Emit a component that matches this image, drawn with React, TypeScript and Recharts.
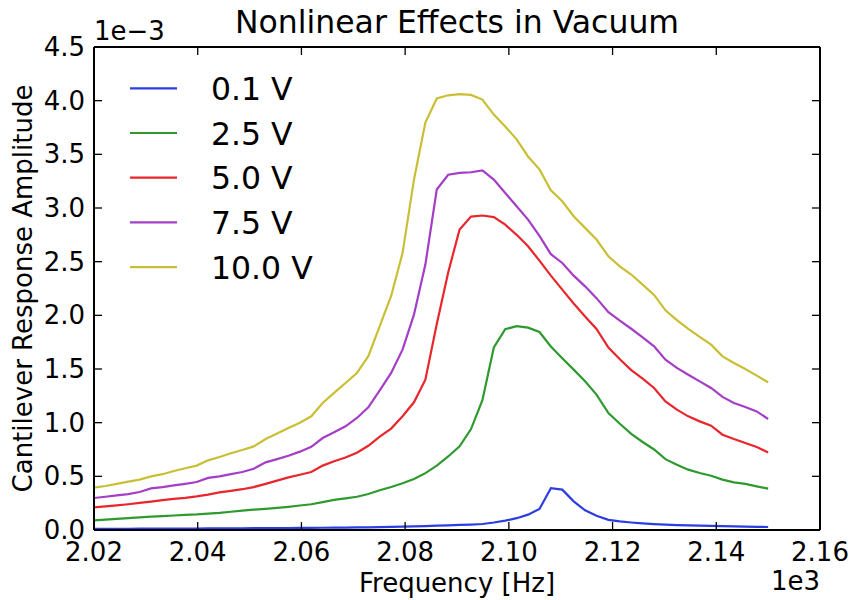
import React from "react";
import { LineChart, Line, XAxis, YAxis } from "recharts";

const frequencies = [
  2020.0, 2022.2, 2024.4, 2026.6, 2028.8, 2031.0, 2033.2, 2035.4, 2037.6, 2039.8,
  2042.0, 2044.2, 2046.4, 2048.6, 2050.8, 2053.1, 2055.3, 2057.5, 2059.7, 2061.9,
  2064.1, 2066.3, 2068.5, 2070.7, 2072.9, 2075.1, 2077.3, 2079.5, 2081.7, 2083.9,
  2086.1, 2088.3, 2090.5, 2092.7, 2094.9, 2097.1, 2099.3, 2101.5, 2103.7, 2105.9,
  2108.1, 2110.3, 2112.5, 2114.7, 2116.9, 2119.2, 2121.4, 2123.6, 2125.8, 2128.0,
  2130.2, 2132.4, 2134.6, 2136.8, 2139.0, 2141.2, 2143.4, 2145.6, 2147.8, 2150.0,
];

// amplitudes in units of 1e-3
const amp01 = [
  0.010, 0.010, 0.011, 0.011, 0.012, 0.012, 0.013, 0.013, 0.014, 0.014,
  0.015, 0.015, 0.016, 0.016, 0.017, 0.017, 0.018, 0.018, 0.019, 0.020,
  0.021, 0.022, 0.023, 0.024, 0.025, 0.027, 0.029, 0.031, 0.033, 0.036,
  0.040, 0.043, 0.047, 0.051, 0.056, 0.070, 0.087, 0.110, 0.143, 0.196,
  0.390, 0.376, 0.267, 0.183, 0.133, 0.095, 0.080, 0.070, 0.062, 0.055,
  0.050, 0.046, 0.043, 0.040, 0.038, 0.036, 0.034, 0.032, 0.030, 0.028,
];
const amp25 = [
  0.090, 0.097, 0.103, 0.110, 0.118, 0.125, 0.130, 0.135, 0.140, 0.145,
  0.153, 0.160, 0.170, 0.180, 0.189, 0.197, 0.206, 0.216, 0.228, 0.240,
  0.260, 0.280, 0.295, 0.310, 0.335, 0.370, 0.400, 0.435, 0.475, 0.530,
  0.600, 0.685, 0.780, 0.940, 1.210, 1.700, 1.870, 1.900, 1.885, 1.845,
  1.710, 1.600, 1.494, 1.385, 1.261, 1.090, 0.990, 0.895, 0.820, 0.750,
  0.660, 0.608, 0.562, 0.531, 0.506, 0.469, 0.444, 0.429, 0.406, 0.385,
];
const amp50 = [
  0.210, 0.220, 0.230, 0.240, 0.252, 0.265, 0.278, 0.290, 0.300, 0.313,
  0.330, 0.350, 0.365, 0.380, 0.400, 0.430, 0.460, 0.490, 0.515, 0.540,
  0.600, 0.640, 0.675, 0.720, 0.785, 0.870, 0.945, 1.060, 1.190, 1.400,
  1.920, 2.400, 2.800, 2.920, 2.930, 2.915, 2.845, 2.750, 2.643, 2.510,
  2.370, 2.240, 2.110, 1.990, 1.873, 1.700, 1.590, 1.490, 1.410, 1.323,
  1.198, 1.121, 1.059, 1.012, 0.972, 0.888, 0.848, 0.811, 0.773, 0.723,
];
const amp75 = [
  0.298, 0.310, 0.322, 0.335, 0.354, 0.388, 0.400, 0.415, 0.430, 0.447,
  0.485, 0.500, 0.520, 0.540, 0.571, 0.630, 0.660, 0.692, 0.730, 0.775,
  0.857, 0.910, 0.966, 1.044, 1.143, 1.300, 1.463, 1.680, 2.006, 2.473,
  3.172, 3.310, 3.327, 3.333, 3.350, 3.265, 3.140, 3.016, 2.892, 2.740,
  2.570, 2.488, 2.370, 2.270, 2.160, 2.030, 1.950, 1.875, 1.795, 1.711,
  1.587, 1.510, 1.447, 1.385, 1.323, 1.240, 1.184, 1.146, 1.105, 1.034,
];
const amp100 = [
  0.394, 0.410, 0.430, 0.450, 0.469, 0.500, 0.520, 0.550, 0.575, 0.600,
  0.649, 0.680, 0.715, 0.745, 0.779, 0.848, 0.900, 0.951, 1.000, 1.059,
  1.184, 1.277, 1.370, 1.463, 1.620, 1.900, 2.180, 2.580, 3.264, 3.796,
  4.020, 4.050, 4.060, 4.054, 4.010, 3.870, 3.760, 3.640, 3.480, 3.360,
  3.165, 3.063, 2.923, 2.815, 2.706, 2.550, 2.457, 2.380, 2.286, 2.190,
  2.047, 1.955, 1.873, 1.800, 1.727, 1.618, 1.556, 1.500, 1.438, 1.376,
];

const seriesNames = ["0.1 V", "2.5 V", "5.0 V", "7.5 V", "10.0 V"];
const seriesKeys = ["v01", "v25", "v50", "v75", "v100"];
const seriesColors = ["#2b3de3", "#2e9a2e", "#e8262b", "#a43ec6", "#c9bf36"];
const seriesValues = [amp01, amp25, amp50, amp75, amp100];

const xTicks = [2020, 2040, 2060, 2080, 2100, 2120, 2140, 2160];
const yTicks = [0, 0.5, 1.0, 1.5, 2.0, 2.5, 3.0, 3.5, 4.0, 4.5];

const data = frequencies.map((f, i) => {
  const row: any = { f };
  seriesKeys.forEach((k, s) => (row[k] = seriesValues[s][i]));
  return row;
});

const W = 854;
const H = 600;
const PL = 94;
const PR = 820;
const PT = 47;
const PB = 530;
const FONT = "DejaVu Sans";
const TICK = 8;
const FS = 26;
const FL = 31.5;

const BottomTick = (props: any) => {
  const { x, payload } = props;
  return (
    <g>
      <line x1={x} y1={PB} x2={x} y2={PB - TICK} stroke="#000" strokeWidth={1.3} />
      <text x={x} y={PB + 31} textAnchor="middle" fontFamily={FONT} fontSize={FS} fill="#000">
        {(payload.value / 1000).toFixed(2)}
      </text>
    </g>
  );
};
const TopTick = (props: any) => {
  const { x } = props;
  return <line x1={x} y1={PT} x2={x} y2={PT + TICK} stroke="#000" strokeWidth={1.3} />;
};
const LeftTick = (props: any) => {
  const { y, payload } = props;
  return (
    <g>
      <line x1={PL} y1={y} x2={PL + TICK} y2={y} stroke="#000" strokeWidth={1.3} />
      <text x={PL - 9} y={y + 9} textAnchor="end" fontFamily={FONT} fontSize={FS} fill="#000">
        {payload.value.toFixed(1)}
      </text>
    </g>
  );
};
const RightTick = (props: any) => {
  const { y } = props;
  return <line x1={PR} y1={y} x2={PR - TICK} y2={y} stroke="#000" strokeWidth={1.3} />;
};

export default function App() {
  return (
    <div style={{ position: "absolute", left: 0, top: 0, width: W, height: H, background: "#fff" }}>
      <LineChart
        width={W}
        height={H}
        data={data}
        margin={{ top: PT - 1, right: W - PR - 1, bottom: 0, left: 0 }}
      >
        <XAxis
          dataKey="f"
          type="number"
          domain={[2020, 2160]}
          ticks={xTicks}
          allowDataOverflow
          height={H - PB}
          axisLine={{ stroke: "#000", strokeWidth: 2 }}
          tickLine={false}
          tick={<BottomTick />}
          interval={0}
        />
        <XAxis
          xAxisId="top"
          orientation="top"
          dataKey="f"
          type="number"
          domain={[2020, 2160]}
          ticks={xTicks}
          allowDataOverflow
          height={1}
          axisLine={{ stroke: "#000", strokeWidth: 2 }}
          tickLine={false}
          tick={<TopTick />}
          interval={0}
        />
        <YAxis
          type="number"
          domain={[0, 4.5]}
          ticks={yTicks}
          allowDataOverflow
          width={PL}
          axisLine={{ stroke: "#000", strokeWidth: 2 }}
          tickLine={false}
          tick={<LeftTick />}
          interval={0}
        />
        <YAxis
          yAxisId="right"
          orientation="right"
          type="number"
          domain={[0, 4.5]}
          ticks={yTicks}
          allowDataOverflow
          width={1}
          axisLine={{ stroke: "#000", strokeWidth: 2 }}
          tickLine={false}
          tick={<RightTick />}
          interval={0}
        />
        {seriesKeys.map((k, s) => (
          <Line
            key={k}
            dataKey={k}
            name={seriesNames[s]}
            stroke={seriesColors[s]}
            strokeWidth={2.2}
            dot={false}
            activeDot={false}
            type="linear"
            isAnimationActive={false}
          />
        ))}
      </LineChart>
      <svg
        width={W}
        height={H}
        style={{ position: "absolute", left: 0, top: 0, pointerEvents: "none" }}
      >
        <text x={(PL + PR) / 2} y={33} textAnchor="middle" fontFamily={FONT} fontSize={FL} fill="#000">
          Nonlinear Effects in Vacuum
        </text>
        <text x={PL} y={40} textAnchor="start" fontFamily={FONT} fontSize={FS} fill="#000">
          1e−3
        </text>
        <text x={PR} y={590} textAnchor="end" fontFamily={FONT} fontSize={FS} fill="#000">
          1e3
        </text>
        <text x={(PL + PR) / 2} y={592} textAnchor="middle" fontFamily={FONT} fontSize={FS} fill="#000">
          Frequency [Hz]
        </text>
        <text
          x={32}
          y={(PT + PB) / 2}
          textAnchor="middle"
          fontFamily={FONT}
          fontSize={FS}
          fill="#000"
          transform={`rotate(-90 32 ${(PT + PB) / 2})`}
        >
          Cantilever Response Amplitude
        </text>
        {seriesNames.map((n, s) => {
          const cy = 88.3 + s * 44.7;
          return (
            <g key={n}>
              <line x1={130} y1={cy} x2={177} y2={cy} stroke={seriesColors[s]} strokeWidth={2.2} />
              <text x={211} y={cy + 11.5} fontFamily={FONT} fontSize={FL} fill="#000">
                {n}
              </text>
            </g>
          );
        })}
      </svg>
    </div>
  );
}
